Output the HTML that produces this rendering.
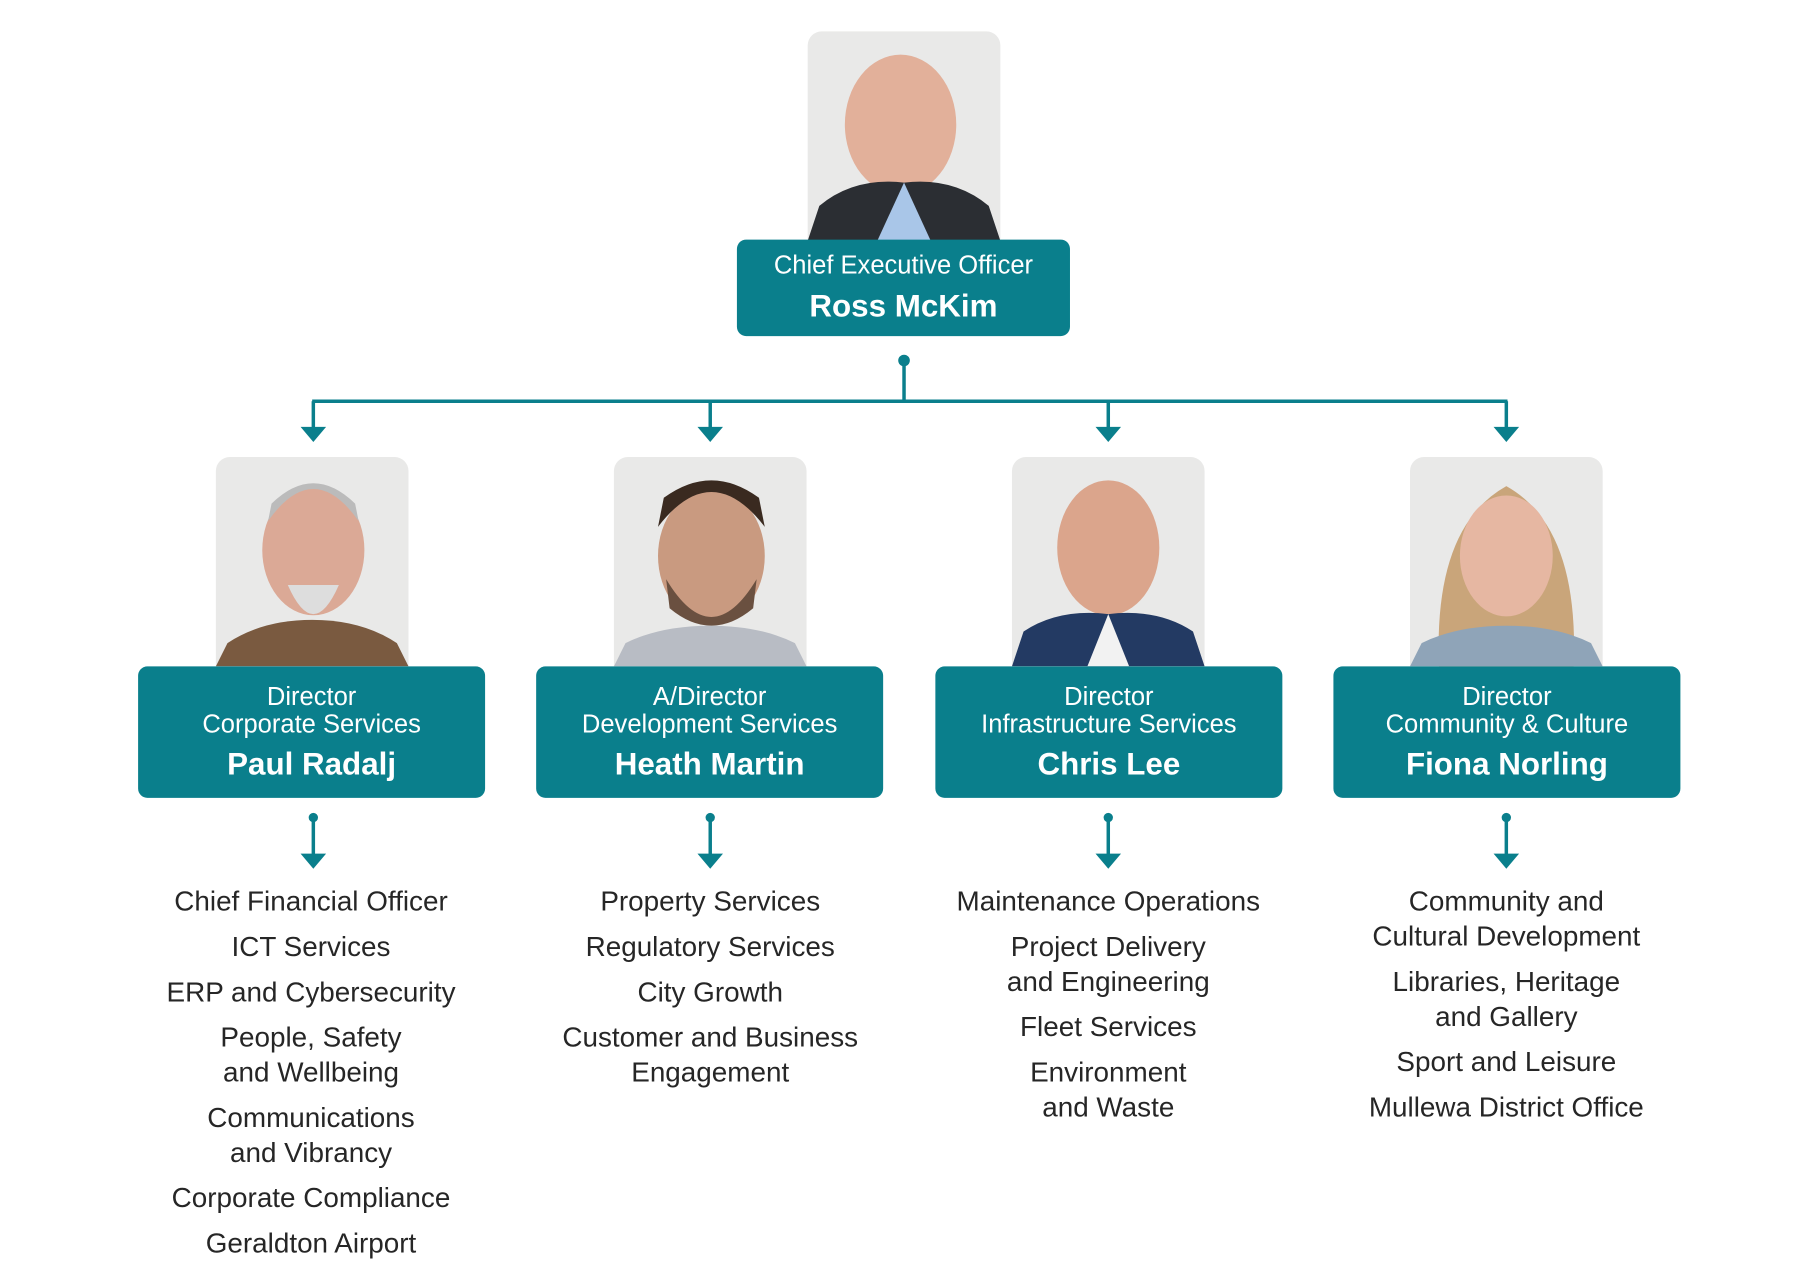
<!DOCTYPE html>
<html><head><meta charset="utf-8"><style>
html,body{margin:0;padding:0;background:#fff;}
body{width:1819px;height:1280px;overflow:hidden;position:relative;font-family:"Liberation Sans",sans-serif;}
#w{position:absolute;left:0;top:0;width:1560px;height:1098px;transform:scale(1.1605,1.163);transform-origin:0 0;}
.ph{position:absolute;width:166px;height:180px;border-radius:12px 12px 0 0;background:#e9e9e8;overflow:hidden;}
.box{position:absolute;background:#0a7f8c;color:#fff;border-radius:8px;text-align:center;}
.t{font-size:22px;line-height:24px;}
.n{font-weight:bold;font-size:27px;}
.list{position:absolute;width:320px;text-align:center;color:#262626;font-size:24px;line-height:30px;}
.list div{margin-bottom:9px;}
</style></head><body><div id="w">
<svg width="1560" height="1098" style="position:absolute;left:0;top:0" fill="#0a7f8c" stroke="#0a7f8c">
<circle cx="779" cy="310" r="5" stroke="none"/>
<line x1="779" y1="310" x2="779" y2="345" stroke-width="3"/>
<line x1="269" y1="345" x2="1299" y2="345" stroke-width="3"/>
<g stroke-width="3">
<line x1="270" y1="345" x2="270" y2="370"/><line x1="612" y1="345" x2="612" y2="370"/><line x1="955" y1="345" x2="955" y2="370"/><line x1="1298" y1="345" x2="1298" y2="370"/>
<line x1="270" y1="703" x2="270" y2="738"/><line x1="612" y1="703" x2="612" y2="738"/><line x1="955" y1="703" x2="955" y2="738"/><line x1="1298" y1="703" x2="1298" y2="738"/>
</g>
<g stroke="none">
<polygon points="259,367 281,367 270,380"/><polygon points="601,367 623,367 612,380"/><polygon points="944,367 966,367 955,380"/><polygon points="1287,367 1309,367 1298,380"/>
<polygon points="259,734 281,734 270,747"/><polygon points="601,734 623,734 612,747"/><polygon points="944,734 966,734 955,747"/><polygon points="1287,734 1309,734 1298,747"/>
<circle cx="270" cy="703" r="4"/><circle cx="612" cy="703" r="4"/><circle cx="955" cy="703" r="4"/><circle cx="1298" cy="703" r="4"/>
</g>
</svg>

<div class="ph" style="left:696px;top:27px"><svg width="166" height="180"><ellipse cx="80" cy="80" rx="48" ry="60" fill="#e2b09a"/><path d="M0 180 L10 150 Q40 125 83 130 Q126 125 156 150 L166 180Z" fill="#2b2e33"/><path d="M60 180 L83 130 L106 180Z" fill="#a9c6e8"/></svg></div>
<div class="ph" style="left:186px;top:393px"><svg width="166" height="180"><ellipse cx="84" cy="80" rx="44" ry="56" fill="#dba996"/><path d="M45 55 Q84 0 123 55 L120 40 Q84 5 48 40Z" fill="#bbb"/><path d="M62 110 Q84 160 106 110Z" fill="#ddd"/><path d="M0 180 L10 160 Q40 140 83 140 Q126 140 156 160 L166 180Z" fill="#7a5a40"/></svg></div>
<div class="ph" style="left:529px;top:393px"><svg width="166" height="180"><ellipse cx="84" cy="85" rx="46" ry="58" fill="#c99a80"/><path d="M38 60 Q84 0 130 60 L125 35 Q84 5 43 35Z" fill="#3a2a20"/><path d="M45 105 Q84 170 123 105 L120 130 Q84 160 48 130Z" fill="#6a5040"/><path d="M0 180 L10 160 Q40 145 83 145 Q126 145 156 160 L166 180Z" fill="#b8bcc4"/></svg></div>
<div class="ph" style="left:872px;top:393px"><svg width="166" height="180"><ellipse cx="83" cy="78" rx="44" ry="58" fill="#dba58c"/><path d="M0 180 L10 150 Q40 130 83 135 Q126 130 156 150 L166 180Z" fill="#233a63"/><path d="M65 180 L83 135 L101 180Z" fill="#f2f2f2"/></svg></div>
<div class="ph" style="left:1215px;top:393px"><svg width="166" height="180"><path d="M25 180 Q20 60 83 25 Q146 60 141 180Z" fill="#c9a57a"/><ellipse cx="83" cy="85" rx="40" ry="52" fill="#e6b7a2"/><path d="M0 180 L10 160 Q40 145 83 145 Q126 145 156 160 L166 180Z" fill="#8fa4b8"/></svg></div>

<div class="box" style="left:635px;top:206px;width:287px;height:83px"><div class="t" style="padding-top:10px;font-size:22px">Chief Executive Officer</div><div class="n" style="margin-top:8px">Ross McKim</div></div>
<div class="box" style="left:119px;top:573px;width:299px;height:113px"><div class="t" style="padding-top:14px">Director<br>Corporate Services</div><div class="n" style="margin-top:7px">Paul Radalj</div></div>
<div class="box" style="left:462px;top:573px;width:299px;height:113px"><div class="t" style="padding-top:14px">A/Director<br>Development Services</div><div class="n" style="margin-top:7px">Heath Martin</div></div>
<div class="box" style="left:806px;top:573px;width:299px;height:113px"><div class="t" style="padding-top:14px">Director<br>Infrastructure Services</div><div class="n" style="margin-top:7px">Chris Lee</div></div>
<div class="box" style="left:1149px;top:573px;width:299px;height:113px"><div class="t" style="padding-top:14px">Director<br>Community &amp; Culture</div><div class="n" style="margin-top:7px">Fiona Norling</div></div>

<div class="list" style="left:108px;top:761px"><div>Chief Financial Officer</div><div>ICT Services</div><div>ERP and Cybersecurity</div><div>People, Safety<br>and Wellbeing</div><div>Communications<br>and Vibrancy</div><div>Corporate Compliance</div><div>Geraldton Airport</div></div>
<div class="list" style="left:452px;top:761px"><div>Property Services</div><div>Regulatory Services</div><div>City Growth</div><div>Customer and Business<br>Engagement</div></div>
<div class="list" style="left:795px;top:761px"><div>Maintenance Operations</div><div>Project Delivery<br>and Engineering</div><div>Fleet Services</div><div>Environment<br>and Waste</div></div>
<div class="list" style="left:1138px;top:761px"><div>Community and<br>Cultural Development</div><div>Libraries, Heritage<br>and Gallery</div><div>Sport and Leisure</div><div>Mullewa District Office</div></div>
</div></body></html>
